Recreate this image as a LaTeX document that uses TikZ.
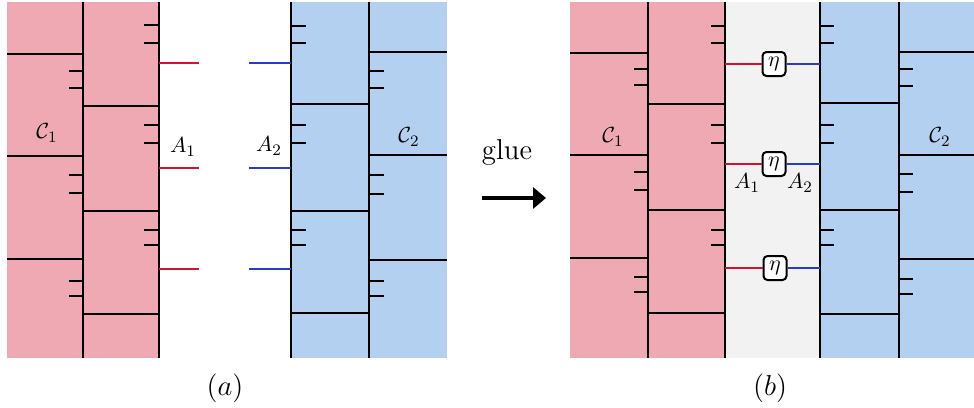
\documentclass[tikz,border=0pt]{standalone}
\usetikzlibrary{arrows.meta}
\definecolor{pinkc}{RGB}{239,169,178}
\definecolor{bluec}{RGB}{179,208,241}
\definecolor{grayc}{RGB}{242,242,242}
\definecolor{redl}{RGB}{214,16,48}
\definecolor{bluel}{RGB}{40,60,200}
\tikzset{
  wall/.style={line width=0.85pt,black},
  hline/.style={line width=0.7pt,black},
  tickln/.style={line width=0.6pt,black},
  redleg/.style={line width=0.8pt,redl},
  blueleg/.style={line width=0.8pt,bluel},
  etabox/.style={draw,fill=white,rounded corners=2pt,line width=1pt,minimum width=11.5pt,minimum height=12pt,inner sep=0pt,font=\fontsize{11}{13}\selectfont},
  lab/.style={inner sep=0pt,font=\fontsize{11}{13}\selectfont},
  captxt/.style={inner sep=0pt,font=\fontsize{14.4}{17}\selectfont}
}
\begin{document}
\begin{tikzpicture}[x=0.5pt,y=-0.5pt]
\useasboundingbox (0,0) rectangle (974,407);
% ---------- panel (a), pink ----------
\fill[pinkc] (7,2) rectangle (159,358);
\foreach \y in {54,156,259} \draw[hline] (7,\y) -- (83,\y);
\foreach \y in {106,211,314} \draw[hline] (83,\y) -- (159,\y);
\foreach \y in {71,88,175,193,281,296} \draw[tickln] (69,\y) -- (83,\y);
\foreach \y in {25,43,125,143,230,245} \draw[tickln] (144,\y) -- (159,\y);
\draw[wall] (83,2) -- (83,358);
\draw[wall] (159,2) -- (159,358);
\foreach \y in {63,168,269} \draw[redleg] (159,\y) -- (199,\y);
% ---------- panel (a), blue ----------
\fill[bluec] (291,2) rectangle (447,358);
\foreach \y in {104,211,313} \draw[hline] (291,\y) -- (369,\y);
\foreach \y in {52,155,260} \draw[hline] (369,\y) -- (447,\y);
\foreach \y in {26,43,125,143,230,245} \draw[tickln] (291,\y) -- (306,\y);
\foreach \y in {71,88,175,194,281,296} \draw[tickln] (369,\y) -- (384,\y);
\draw[wall] (291,2) -- (291,358);
\draw[wall] (369,2) -- (369,358);
\foreach \y in {63,168,269} \draw[blueleg] (249,\y) -- (291,\y);
\node[lab] (c1a) at (47,133) {$\mathcal{C}_1$};
\node[lab] (a1a) at (183,147) {$A_1$};
\node[lab] (a2a) at (269,146) {$A_2$};
\node[lab] (c2a) at (409,137) {$\mathcal{C}_2$};
% ---------- arrow ----------
\node[captxt] (glue) at (507,152) {glue};
\coordinate (arrS) at (482,198);
\coordinate (arrE) at (546,198);
\draw[line width=2.2pt,-{Triangle[length=6.5pt,width=10.5pt]}] (arrS) -- (arrE);
% ---------- panel (b) ----------
\fill[pinkc] (570,2) rectangle (725,358);
\fill[grayc] (725,2) rectangle (820,358);
\fill[bluec] (820,2) rectangle (974,358);
\foreach \y in {53,155,258} \draw[hline] (570,\y) -- (648,\y);
\foreach \y in {104,210,313} \draw[hline] (648,\y) -- (725,\y);
\foreach \y in {69,85,172,190,277,292} \draw[tickln] (634,\y) -- (648,\y);
\foreach \y in {26,43,125,143,230,245} \draw[tickln] (711,\y) -- (725,\y);
\foreach \y in {103,210,314} \draw[hline] (820,\y) -- (899,\y);
\foreach \y in {52,155,259} \draw[hline] (899,\y) -- (974,\y);
\foreach \y in {26,43,125,143,230,245} \draw[tickln] (820,\y) -- (834,\y);
\foreach \y in {69,86,174,192,279,294} \draw[tickln] (899,\y) -- (913,\y);
\draw[wall] (648,2) -- (648,358);
\draw[wall] (725,2) -- (725,358);
\draw[wall] (820,2) -- (820,358);
\draw[wall] (899,2) -- (899,358);
\node[etabox] (e1) at (774,64) {$\eta$};
\node[etabox] (e2) at (774,164) {$\eta$};
\node[etabox] (e3) at (775,268) {$\eta$};
\coordinate (l1) at (725,64); \coordinate (r1) at (820,64);
\coordinate (l2) at (725,164); \coordinate (r2) at (820,164);
\coordinate (l3) at (725,268); \coordinate (r3) at (820,268);
\draw[redleg] (l1) -- (e1.west); \draw[blueleg] (e1.east) -- (r1);
\draw[redleg] (l2) -- (e2.west); \draw[blueleg] (e2.east) -- (r2);
\draw[redleg] (l3) -- (e3.west); \draw[blueleg] (e3.east) -- (r3);
\node[lab] (a1b) at (747,183) {$A_1$};
\node[lab] (a2b) at (800,183) {$A_2$};
\node[lab] (c1b) at (613,137) {$\mathcal{C}_1$};
\node[lab] (c2b) at (940,137) {$\mathcal{C}_2$};
% ---------- captions ----------
\node[captxt] (capa) at (225,388) {$(a)$};
\node[captxt] (capb) at (770,388) {$(b)$};
\end{tikzpicture}
\end{document}
